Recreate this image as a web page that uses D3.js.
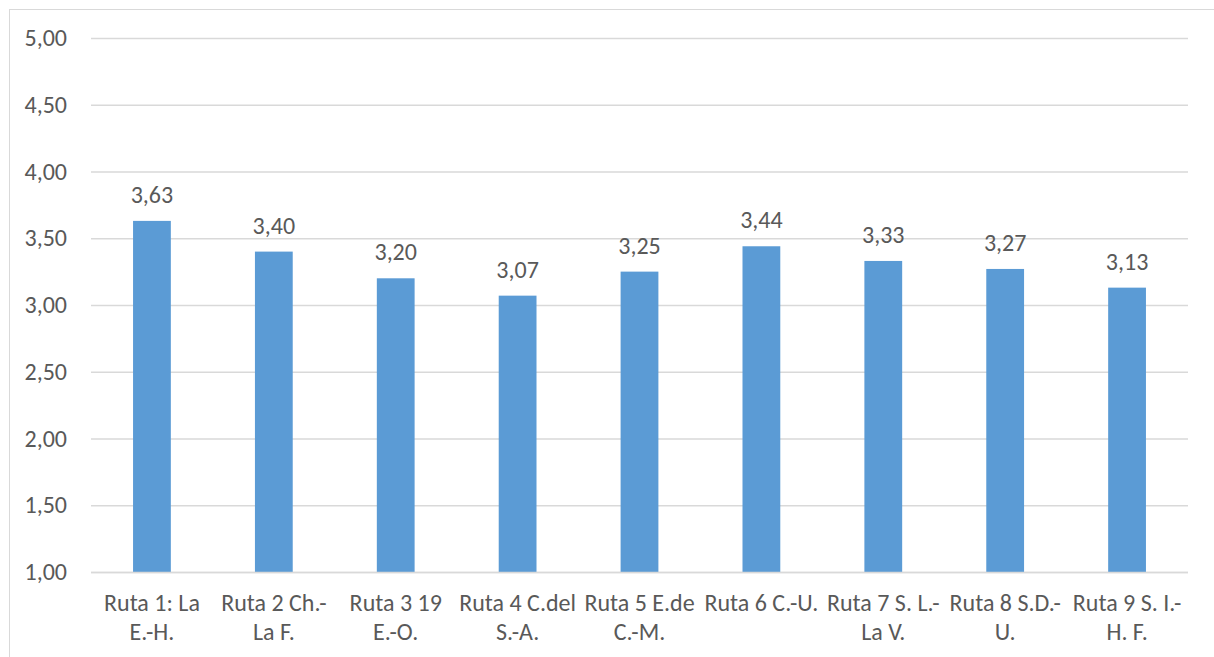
<!DOCTYPE html>
<html>
<head>
<meta charset="utf-8">
<script src="https://cdn.jsdelivr.net/npm/d3@7"></script>
<style>
  html, body { margin: 0; padding: 0; background: #fff; }
  svg { display: block; }
  text { font-family: Carlito, Lato, "Liberation Sans", sans-serif; fill: #595959; }
</style>
</head>
<body>
<svg id="chart" width="1214" height="657"></svg>
<script>
// Route names and their average scores
const categories = [
  "Ruta 1: La E.-H.",
  "Ruta 2 Ch.- La F.",
  "Ruta 3 19 E.-O.",
  "Ruta 4 C.del S.-A.",
  "Ruta 5 E.de C.-M.",
  "Ruta 6 C.-U.",
  "Ruta 7 S. L.- La V.",
  "Ruta 8 S.D.- U.",
  "Ruta 9 S. I.- H. F."
];
const values = [3.63, 3.40, 3.20, 3.07, 3.25, 3.44, 3.33, 3.27, 3.13];
const yTicks = [1.0, 1.5, 2.0, 2.5, 3.0, 3.5, 4.0, 4.5, 5.0];

const FS = 24;
const svg = d3.select("#chart");
const margin = { left: 91, right: 26, top: 38, bottom: 85 };
const W = 1214, H = 657;
const plotW = W - margin.left - margin.right;
const plotH = H - margin.top - margin.bottom;

const fmt = v => v.toFixed(2).replace(".", ",");

// outer chart frame
svg.append("rect")
  .attr("x", 9.5).attr("y", 9.5)
  .attr("width", W + 20).attr("height", H + 20)
  .attr("fill", "none").attr("stroke", "#d9d9d9").attr("stroke-width", 1);

const g = svg.append("g").attr("transform", `translate(${margin.left},${margin.top})`);

const x = d3.scaleBand().domain(categories).range([0, plotW]).paddingInner(0.69).paddingOuter(0.345);
const y = d3.scaleLinear().domain([1, 5]).range([plotH, 0]);

// horizontal gridlines and y labels
const yAxis = d3.axisLeft(y).tickValues(yTicks).tickSize(-plotW).tickPadding(24).tickFormat(fmt);
const ya = g.append("g").call(yAxis);
ya.select(".domain").remove();
ya.selectAll(".tick line").attr("stroke", "#d9d9d9").attr("stroke-width", 1.3);
ya.selectAll(".tick text").attr("font-size", FS).style("fill", "#595959")
  .style("font-family", "Carlito, Lato, 'Liberation Sans', sans-serif");

// bars
g.selectAll("rect.bar").data(values).join("rect")
  .attr("class", "bar")
  .attr("x", (d, i) => x(categories[i]))
  .attr("width", x.bandwidth())
  .attr("y", d => y(d))
  .attr("height", d => y(1) - y(d))
  .attr("fill", "#5b9bd5");

// value labels
g.selectAll("text.val").data(values).join("text")
  .attr("class", "val")
  .attr("x", (d, i) => x(categories[i]) + x.bandwidth() / 2)
  .attr("y", d => y(d) - 18)
  .attr("text-anchor", "middle")
  .attr("font-size", FS)
  .text(fmt);

// x axis baseline
g.append("line")
  .attr("x1", 0).attr("x2", plotW)
  .attr("y1", plotH + 0.5).attr("y2", plotH + 0.5)
  .attr("stroke", "#d9d9d9").attr("stroke-width", 1.3);

// category labels, wrapped to the band width
const step = x.step();
categories.forEach((c, i) => {
  const cx = x(c) + x.bandwidth() / 2;
  const t = g.append("text")
    .attr("text-anchor", "middle")
    .attr("font-size", FS)
    .attr("x", cx).attr("y", plotH + 39);
  const words = c.split(" ");
  let lines = [], cur = [];
  const probe = g.append("text").attr("font-size", FS);
  words.forEach(w => {
    const trial = cur.concat([w]).join(" ");
    probe.text(trial);
    if (cur.length && probe.node().getComputedTextLength() > step) {
      lines.push(cur.join(" "));
      cur = [w];
    } else {
      cur.push(w);
    }
  });
  lines.push(cur.join(" "));
  probe.remove();
  lines.forEach((l, k) => {
    t.append("tspan").attr("x", cx).attr("dy", k === 0 ? 0 : 29).text(l);
  });
});
</script>
</body>
</html>
